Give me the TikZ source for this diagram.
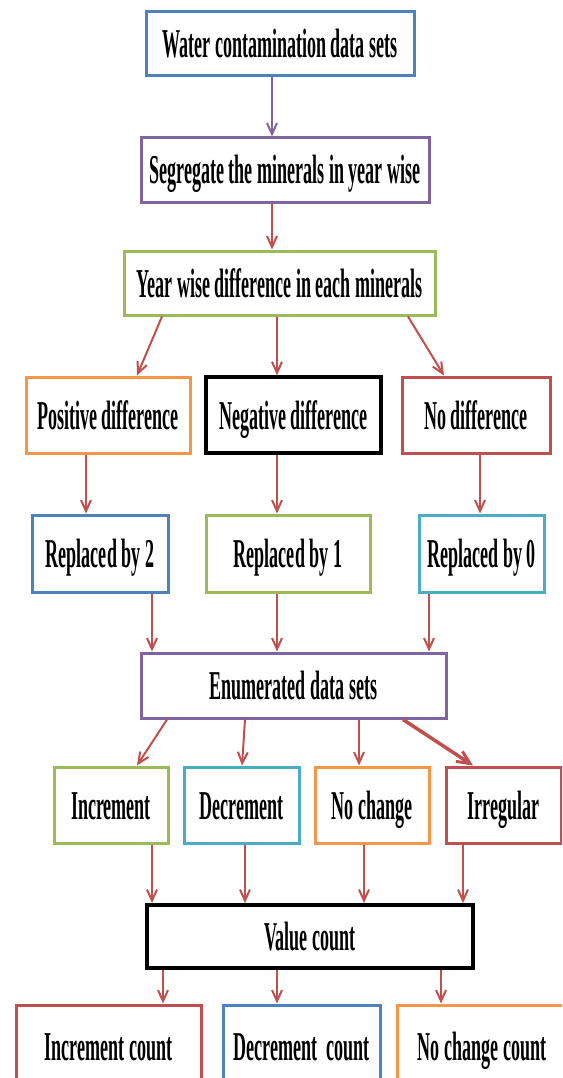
\documentclass[tikz,border=0pt]{standalone}
\usepackage{fontspec}
\setmainfont{Liberation Serif}[FakeStretch=0.44]
\usetikzlibrary{arrows.meta}
\definecolor{cblue}{HTML}{4F81BD}
\definecolor{cpurple}{HTML}{8064A2}
\definecolor{cgreen}{HTML}{9BBB59}
\definecolor{corange}{HTML}{F79646}
\definecolor{cred}{HTML}{C0504D}
\definecolor{ccyan}{HTML}{4BACC6}
\tikzset{
  box/.style={draw=#1, line width=3pt, fill=white, rectangle, inner sep=0pt,
    font=\fontsize{41}{41}\selectfont\bfseries, text height=28pt, text depth=0pt,
    align=center},
  arr/.style={draw=cred, line width=2pt, -{Straight Barb[length=11pt,width=10pt,line width=2pt]}},
  thickarr/.style={arr, line width=3.5pt, -{Straight Barb[length=13pt,width=12pt,line width=3pt]}},
}
\begin{document}
\begin{tikzpicture}[x=1pt,y=-1pt]
\useasboundingbox (0,0) rectangle (562,1078);
\clip (0,0) rectangle (562,1078);
% row 1-3
\node[box=cblue, minimum width=268pt, minimum height=64pt] (water) at (280,44) {Water contamination data sets};
\node[box=cpurple, minimum width=288pt, minimum height=64pt] (seg) at (285,170) {Segregate the minerals in year wise};
\node[box=cgreen, minimum width=311pt, minimum height=64pt] (year) at (279.5,283) {Year wise difference in each minerals};
% row 4
\node[box=corange, minimum width=164pt, minimum height=76pt] (pos) at (108,415) {Positive difference};
\node[box=black, line width=3.5pt, minimum width=175pt, minimum height=76pt] (neg) at (293.5,415) {Negative difference};
\node[box=cred, minimum width=148pt, minimum height=76pt] (nodiff) at (476,415) {No difference};
% row 5
\node[box=cblue, minimum width=136pt, minimum height=77pt] (rep2) at (100,553.5) {Replaced by 2};
\node[box=cgreen, minimum width=164pt, minimum height=77pt] (rep1) at (288,553.5) {Replaced by 1};
\node[box=ccyan, minimum width=125pt, minimum height=77pt] (rep0) at (481.5,553.5) {Replaced by 0};
% row 6
\node[box=cpurple, minimum width=305pt, minimum height=65pt] (enum) at (293.5,685.5) {Enumerated data sets};
% row 7
\node[box=cgreen, minimum width=114pt, minimum height=76pt] (inc) at (111,805) {Increment};
\node[box=ccyan, minimum width=115pt, minimum height=76pt] (dec) at (241.5,805) {Decrement};
\node[box=corange, minimum width=114pt, minimum height=76pt] (noch) at (372,805) {No change};
\node[box=cred, minimum width=115pt, minimum height=76pt] (irr) at (503.5,805) {Irregular};
% row 8
\node[box=black, line width=4pt, minimum width=326pt, minimum height=63pt] (value) at (310,936.5) {Value count};
% row 9
\node[box=cred, minimum width=185pt, minimum height=82pt] (inccount) at (108.5,1046) {Increment count};
\node[box=cblue, minimum width=157pt, minimum height=82pt] (deccount) at (301.5,1046) {Decrement\ \ count};
\node[box=corange, minimum width=170pt, minimum height=82pt] (nochcount) at (482,1046) {No change count};
% arrows
\draw[arr, draw=cpurple, -{Straight Barb[length=11pt,width=10pt,line width=2pt]}] ([xshift=-8pt]water.south) -- ([xshift=-13pt]seg.north);
\draw[arr] ([xshift=-13pt]seg.south) -- ([xshift=-7.5pt]year.north);
\draw[arr] ([xshift=-117.5pt]year.south) -- ([xshift=29pt]pos.north);
\draw[arr] ([xshift=-2.5pt]year.south) -- ([xshift=-16.5pt]neg.north);
\draw[arr] ([xshift=128.5pt]year.south) -- ([xshift=-32pt]nodiff.north);
\draw[arr] ([xshift=-22pt]pos.south) -- ([xshift=-14pt]rep2.north);
\draw[arr] ([xshift=-16.5pt]neg.south) -- ([xshift=-11pt]rep1.north);
\draw[arr] ([xshift=4pt]nodiff.south) -- ([xshift=-1.5pt]rep0.north);
\draw[arr] ([xshift=52pt]rep2.south) -- ([xshift=-141.5pt]enum.north);
\draw[arr] ([xshift=-11pt]rep1.south) -- ([xshift=-16.5pt]enum.north);
\draw[arr] ([xshift=-52.5pt]rep0.south) -- ([xshift=135.5pt]enum.north);
\draw[arr] ([xshift=-126.5pt]enum.south) -- ([xshift=26pt]inc.north);
\draw[arr] ([xshift=-48.5pt]enum.south) -- ([xshift=0.5pt]dec.north);
\draw[arr] ([xshift=65.5pt]enum.south) -- ([xshift=-13pt]noch.north);
\draw[thickarr] ([xshift=109.5pt]enum.south) -- ([xshift=-30.5pt]irr.north);
\draw[arr] ([xshift=41pt]inc.south) -- ([xshift=-158pt]value.north);
\draw[arr] ([xshift=3.5pt]dec.south) -- ([xshift=-65pt]value.north);
\draw[arr] ([xshift=-8pt]noch.south) -- ([xshift=54pt]value.north);
\draw[arr] ([xshift=-40.5pt]irr.south) -- ([xshift=153pt]value.north);
\draw[arr] ([xshift=-147pt]value.south) -- ([xshift=54.5pt]inccount.north);
\draw[arr] ([xshift=-33pt]value.south) -- ([xshift=-24.5pt]deccount.north);
\draw[arr] ([xshift=131pt]value.south) -- ([xshift=-41pt]nochcount.north);
\end{tikzpicture}
\end{document}
